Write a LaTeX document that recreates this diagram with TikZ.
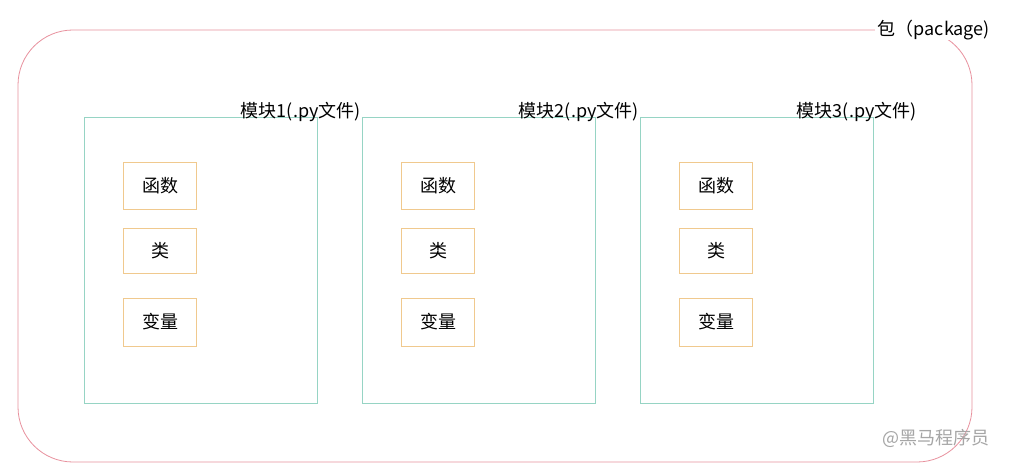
\documentclass[tikz,border=0pt]{standalone}
\usepackage{fontspec}
\setmainfont{Noto Sans CJK SC}
\usetikzlibrary{positioning}
\definecolor{pkgred}{HTML}{E8919E}
\definecolor{modgreen}{HTML}{96D4C4}
\definecolor{itemorange}{HTML}{F0C98E}
\begin{document}
\begin{tikzpicture}[x=1pt, y=-1pt, node distance=1cm]
  \tikzstyle{module}=[draw=modgreen, thick, rectangle, minimum width=233pt, minimum height=286pt, anchor=north west]
  \tikzstyle{item}=[draw=itemorange, thick, rectangle, minimum width=73pt, minimum height=47pt, font=\fontsize{18}{21}\selectfont]
  \tikzstyle{caption}=[font=\fontsize{18}{21}\selectfont, anchor=east, inner sep=0pt]
  \useasboundingbox (0,0) rectangle (1011,473);
  \fill[white] (0,0) rectangle (1011,473);

  \draw[pkgred, thick, rounded corners=55pt] (18,30) rectangle (972,462);
  \node[caption, fill=white, inner xsep=3pt] (pkg) at (993,30) {包（package)};

  \foreach \i/\x in {1/84, 2/362, 3/640} {
    \node[module] (M\i) at (\x,117) {};
    \node[caption] (L\i) at ([xshift=43pt, yshift=5pt]M\i.north east) {模块\i(.py文件)};
    \node[item] (F\i) at (\x+76,186) {函数};
    \node[item, minimum height=45pt] (C\i) at (\x+76,251) {类};
    \node[item, minimum height=48pt] (V\i) at (\x+76,322) {变量};
  }

  \node[caption, text=gray!70] (mark) at (990,438) {@黑马程序员};
\end{tikzpicture}
\end{document}
